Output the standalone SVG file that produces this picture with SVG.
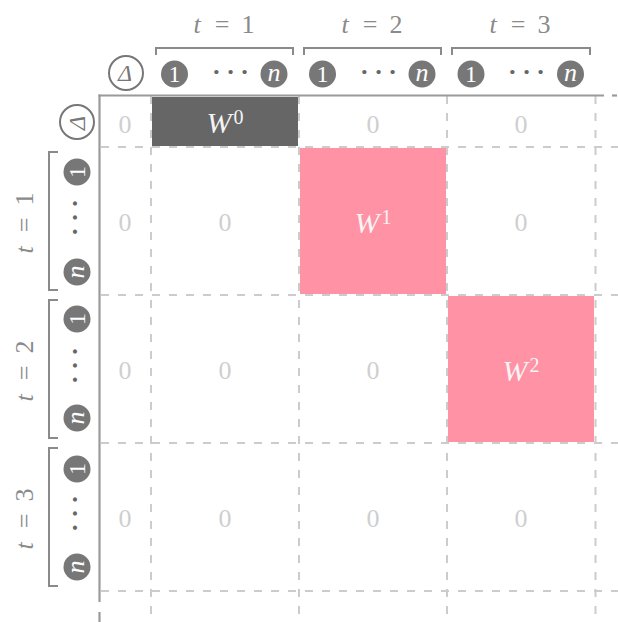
<svg xmlns="http://www.w3.org/2000/svg" width="618" height="622" viewBox="0 0 618 622" font-family="'Liberation Serif', 'Times New Roman', Times, serif">
<style>
.grid{stroke:#cccccc;stroke-width:2;stroke-dasharray:8 9;fill:none}
.axis{stroke:#9a9a9a;stroke-width:2.2;fill:none}
.br{stroke:#8a8a8a;stroke-width:2;fill:none}
.lbl{font-size:26px;fill:#8a8a8a;text-anchor:middle}
.it{font-style:italic}
.zero{font-size:26px;fill:#cfcfcf;text-anchor:middle}
.node{fill:#777777}
.nt{font-size:24px;fill:#ffffff;text-anchor:middle}
.nn{font-style:italic;font-size:26px;fill:#ffffff;text-anchor:middle}
.dots{font-size:26px;font-weight:bold;fill:#666666;letter-spacing:5.5px}
.delta{fill:#ffffff;stroke:#777777;stroke-width:2}
.dt{font-style:italic;font-size:24px;fill:#777777;text-anchor:middle}
.w{font-style:italic;font-size:30px;fill:#f4f4f4;text-anchor:middle}
.sup{font-style:normal;font-size:20px}
</style>

<g id="grid">
<line class="grid" x1="151" y1="96" x2="151" y2="622"/>
<line class="grid" x1="299" y1="96" x2="299" y2="622"/>
<line class="grid" x1="447" y1="96" x2="447" y2="622"/>
<line class="grid" x1="595.5" y1="96" x2="595.5" y2="622"/>
<line class="grid" x1="101" y1="147" x2="618" y2="147"/>
<line class="grid" x1="101" y1="295" x2="618" y2="295"/>
<line class="grid" x1="101" y1="443" x2="618" y2="443"/>
<line class="grid" x1="101" y1="591" x2="618" y2="591"/>
</g>

<g id="block-W0">
<rect x="152" y="97" width="146" height="49" fill="#666666"/>
<text class="w" x="225" y="133">W<tspan class="sup" dx="2" dy="-9">0</tspan></text>
</g>
<g id="block-W1">
<rect x="300" y="148" width="146" height="146" fill="#ff92a5"/>
<text class="w" x="373" y="233">W<tspan class="sup" dx="2" dy="-9">1</tspan></text>
</g>
<g id="block-W2">
<rect x="448" y="296" width="146" height="146" fill="#ff92a5"/>
<text class="w" x="521" y="381">W<tspan class="sup" dx="2" dy="-9">2</tspan></text>
</g>

<g id="zeros">
<text class="zero" x="125" y="133">0</text>
<text class="zero" x="373" y="133">0</text>
<text class="zero" x="521" y="133">0</text>
<text class="zero" x="125" y="231">0</text>
<text class="zero" x="225" y="231">0</text>
<text class="zero" x="521" y="231">0</text>
<text class="zero" x="125" y="379">0</text>
<text class="zero" x="225" y="379">0</text>
<text class="zero" x="373" y="379">0</text>
<text class="zero" x="125" y="527">0</text>
<text class="zero" x="225" y="527">0</text>
<text class="zero" x="373" y="527">0</text>
<text class="zero" x="521" y="527">0</text>
</g>

<g id="axes">
<line class="axis" x1="99.5" y1="94.5" x2="99.5" y2="602"/>
<line class="axis" x1="98.5" y1="95.5" x2="604" y2="95.5"/>
<line class="axis" x1="612" y1="95.5" x2="617" y2="95.5"/>
<line class="axis" x1="99.5" y1="612" x2="99.5" y2="622"/>
</g>

<g id="top-header">
<g id="top-delta">
<circle class="delta" cx="126" cy="73" r="17"/>
<text class="dt" x="125" y="81">Δ</text>
</g>
<g id="top-t1">
<path class="br" d="M156,55 V48 H293 V55"/>
<text class="lbl" y="33"><tspan class="it" x="197">t</tspan><tspan x="222">=</tspan><tspan x="248">1</tspan></text>
<circle class="node" cx="174.5" cy="74" r="13.5"/><text class="nt" x="174.5" y="82">1</text>
<text class="dots" x="212" y="80">···</text>
<circle class="node" cx="274" cy="74" r="13.5"/><text class="nn" x="274" y="81">n</text>
</g>
<g id="top-t2">
<path class="br" d="M304,55 V48 H441 V55"/>
<text class="lbl" y="33"><tspan class="it" x="345">t</tspan><tspan x="370">=</tspan><tspan x="396">2</tspan></text>
<circle class="node" cx="322.5" cy="74" r="13.5"/><text class="nt" x="322.5" y="82">1</text>
<text class="dots" x="360" y="80">···</text>
<circle class="node" cx="422" cy="74" r="13.5"/><text class="nn" x="422" y="81">n</text>
</g>
<g id="top-t3">
<path class="br" d="M452,55 V48 H590 V55"/>
<text class="lbl" y="33"><tspan class="it" x="493">t</tspan><tspan x="518">=</tspan><tspan x="544">3</tspan></text>
<circle class="node" cx="471" cy="74" r="13.5"/><text class="nt" x="471" y="82">1</text>
<text class="dots" x="508" y="80">···</text>
<circle class="node" cx="570.5" cy="74" r="13.5"/><text class="nn" x="570.5" y="81">n</text>
</g>
</g>

<g id="left-header">
<g id="left-delta" transform="translate(77,122) rotate(-90)">
<circle class="delta" cx="0" cy="0" r="17"/>
<text class="dt" x="-1" y="8">Δ</text>
</g>
<g id="left-t1">
<path class="br" d="M58,152 H49 V290 H58"/>
<g transform="translate(33,223) rotate(-90)"><text class="lbl" y="0"><tspan class="it" x="-27">t</tspan><tspan x="-2">=</tspan><tspan x="24">1</tspan></text></g>
<g transform="translate(77,172) rotate(-90)"><circle class="node" r="13.5"/><text class="nt" y="8">1</text></g>
<g transform="translate(77,222) rotate(-90)"><text class="dots" x="-14" y="6">···</text></g>
<g transform="translate(77,272) rotate(-90)"><circle class="node" r="13.5"/><text class="nn" y="7">n</text></g>
</g>
<g id="left-t2">
<path class="br" d="M58,300 H49 V438 H58"/>
<g transform="translate(33,371) rotate(-90)"><text class="lbl" y="0"><tspan class="it" x="-27">t</tspan><tspan x="-2">=</tspan><tspan x="24">2</tspan></text></g>
<g transform="translate(77,319) rotate(-90)"><circle class="node" r="13.5"/><text class="nt" y="8">1</text></g>
<g transform="translate(77,370) rotate(-90)"><text class="dots" x="-14" y="6">···</text></g>
<g transform="translate(77,418) rotate(-90)"><circle class="node" r="13.5"/><text class="nn" y="7">n</text></g>
</g>
<g id="left-t3">
<path class="br" d="M58,448 H49 V586 H58"/>
<g transform="translate(33,519) rotate(-90)"><text class="lbl" y="0"><tspan class="it" x="-27">t</tspan><tspan x="-2">=</tspan><tspan x="24">3</tspan></text></g>
<g transform="translate(77,469) rotate(-90)"><circle class="node" r="13.5"/><text class="nt" y="8">1</text></g>
<g transform="translate(77,518) rotate(-90)"><text class="dots" x="-14" y="6">···</text></g>
<g transform="translate(77,567) rotate(-90)"><circle class="node" r="13.5"/><text class="nn" y="7">n</text></g>
</g>
</g>
</svg>
